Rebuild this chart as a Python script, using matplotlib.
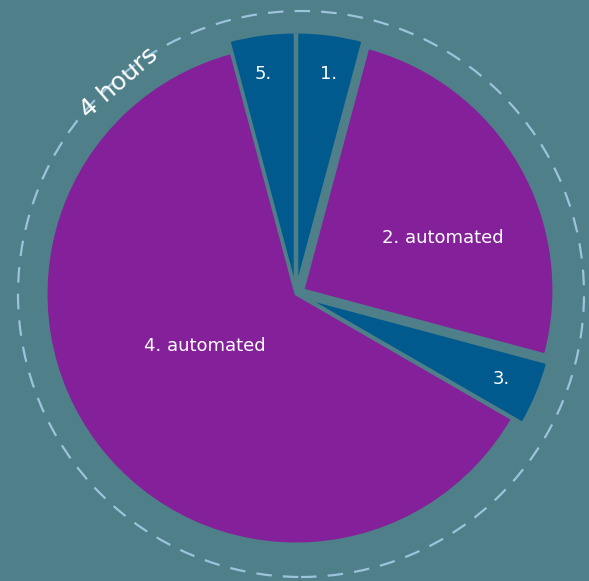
import numpy as np
import matplotlib.pyplot as plt
from matplotlib.patches import Circle

# minutes out of a 4 hour block
labels = ["1.", "2. automated", "3.", "4. automated", "5."]
minutes = [10, 60, 10, 150, 10]
colors = ["#005a8e", "#84209a", "#005a8e", "#84209a", "#005a8e"]

bg = "#4f7f88"
label_dist = [0.89, 0.63, 0.89, 0.42, 0.89]
label_turn = [-1, -9, 0, -8, 1]   # degrees, nudges label off the wedge middle
radii = [256, 251, 251, 250, 256]

fig = plt.figure(figsize=(5.89, 5.81), dpi=100, facecolor=bg)
ax = fig.add_axes([0, 0, 1, 1])
ax.set_facecolor(bg)

cx, cy, r = 296, 287, 250
# explode is in data units (pixels here)
wedges, _ = ax.pie(minutes, colors=colors, startangle=90, counterclock=False,
                   center=(cx, cy), radius=r, frame=True,
                   explode=[6, 8, 10, 0, 6],
                   wedgeprops=dict(edgecolor=bg, linewidth=2.2))
for w, rr in zip(wedges, radii):
    w.set_radius(rr)
ax.set_xlim(0, 589)
ax.set_ylim(0, 581)
ax.set_aspect('equal')
ax.axis('off')

for w, lab, d, t in zip(wedges, labels, label_dist, label_turn):
    mid = np.deg2rad((w.theta1 + w.theta2) / 2 + t)
    x = cx + d * r * np.cos(mid)
    y = cy + d * r * np.sin(mid)
    ax.text(x, y, lab, color="white", fontsize=13, ha="center", va="center")

ring = Circle((301, 287), 283, fill=False, edgecolor="#9cc2dc", linewidth=1.6,
              linestyle=(0, (7, 5)))
ax.add_patch(ring)

ax.text(119, 498, "4 hours", color="white", fontsize=18, rotation=41,
        ha="center", va="center")

fig.savefig("out.png", dpi=100, facecolor=bg)
